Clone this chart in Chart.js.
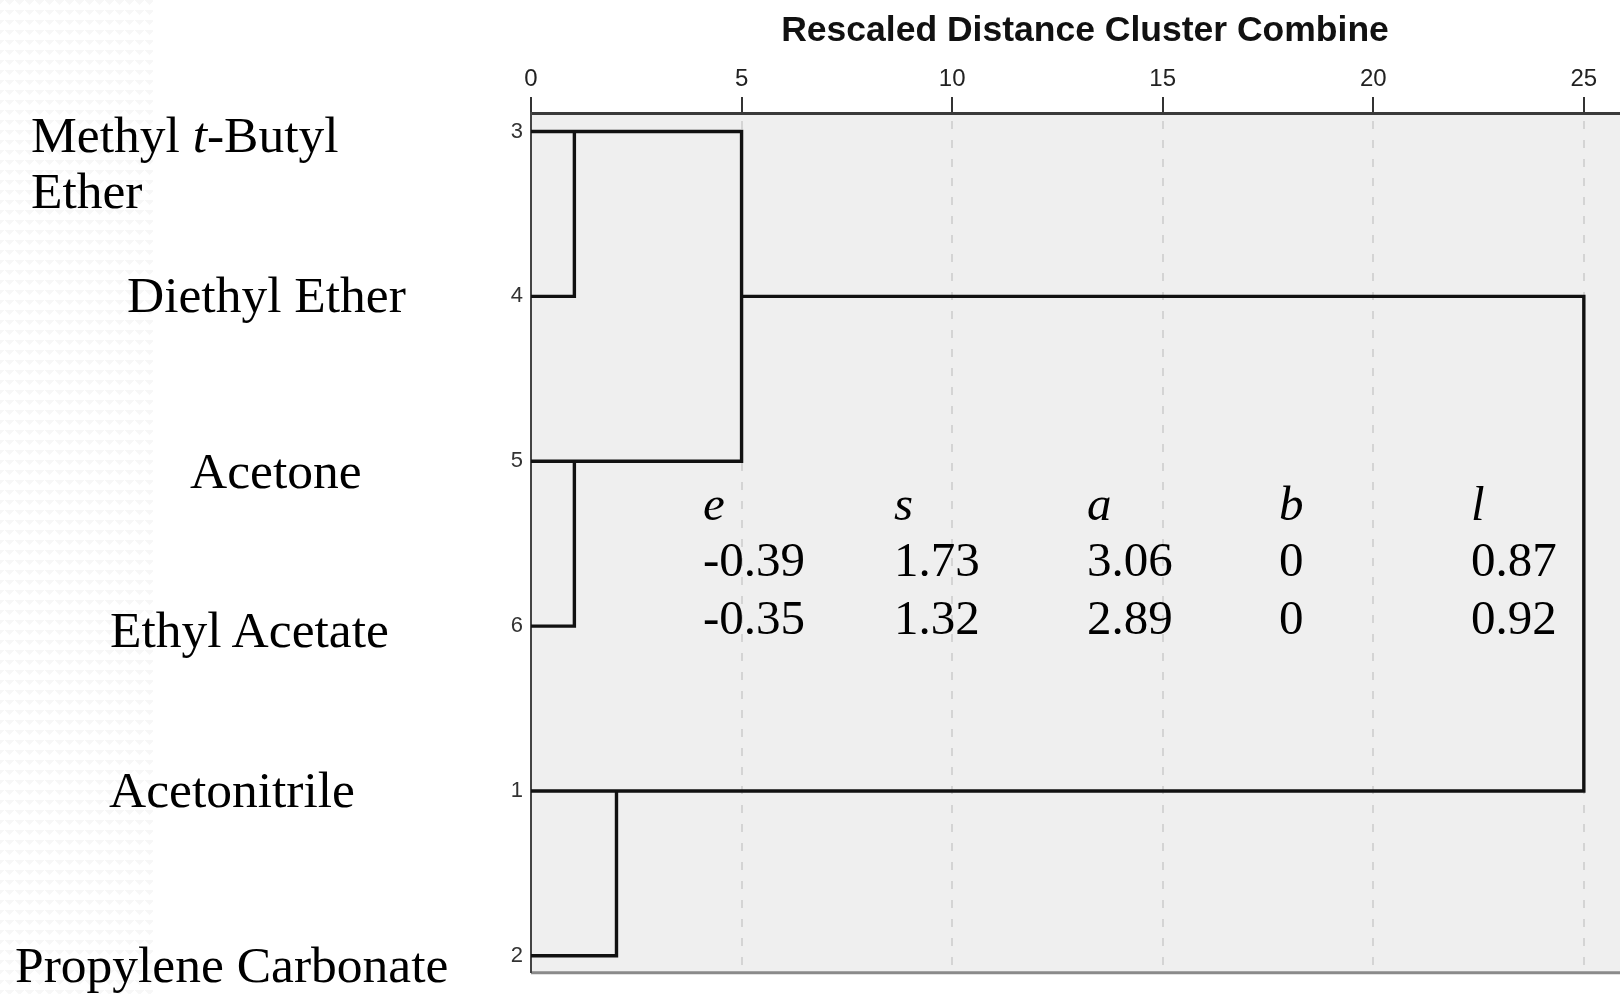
<!DOCTYPE html>
<html>
<head>
<meta charset="utf-8">
<script src="https://cdn.jsdelivr.net/npm/chart.js@4.4.1/dist/chart.umd.min.js"></script>
<style>
  html, body { margin: 0; padding: 0; background: #fff; overflow: hidden; }
  #wrap { position: relative; width: 1620px; height: 994px; overflow: hidden; }
  #textura {
    position: absolute; left: 0; top: 0; width: 153px; height: 994px;
    background-image:
      linear-gradient(135deg, #f7f7f7 25%, transparent 25%),
      linear-gradient(225deg, #f7f7f7 25%, transparent 25%);
    background-size: 10px 10px;
  }
  #grafico { position: absolute; left: 0; top: 0; }
  .rot { position: absolute; font-family: "Liberation Serif", "DejaVu Serif", serif; color: #000; white-space: nowrap; line-height: 1; }
</style>
</head>
<body>
<div id="wrap">
  <div id="textura"></div>
  <canvas id="grafico" width="1639" height="994"></canvas>
  <div id="textos"></div>
</div>
<script>
// casos na ordem do dendrograma (de cima para baixo)
const casos = ["3", "4", "5", "6", "1", "2"];
const nomes = ["Methyl <i>t</i>-Butyl", "Ether", "Diethyl Ether", "Acetone", "Ethyl Acetate", "Acetonitrile", "Propylene Carbonate"];
const distTicks = [0, 5, 10, 15, 20, 25];

// ramos: pares [distancia, indice da linha]
const ramoEteres = [[0, 0], [5, 0], [5, 2], [0, 2]];
const ramo34 = [[0, 1], [1.03, 1], [1.03, 0]];
const ramo56 = [[0, 3], [1.03, 3], [1.03, 2]];
const ramoFinal = [[5, 1], [25, 1], [25, 4], [0, 4]];
const ramo12 = [[0, 5], [2.03, 5], [2.03, 4]];

const coefNomes = ["e", "s", "a", "b", "l"];
const coefLinha1 = ["-0.39", "1.73", "3.06", "0", "0.87"];
const coefLinha2 = ["-0.35", "1.32", "2.89", "0", "0.92"];

// posicoes do texto do slide (esquerda, linha de base)
const posNomes = [[31, 152], [31, 208], [127, 312], [190, 488], [110, 647], [109, 807], [15, 982]];
const colunasX = [703, 894, 1087, 1279, 1471];
const basesTabela = [520, 576, 634];

const textos = document.getElementById("textos");
function rotulo(html, x, base, tam) {
  const d = document.createElement("div");
  d.className = "rot";
  d.style.fontSize = tam + "px";
  d.style.left = x + "px";
  d.style.top = (base - 0.8375 * tam) + "px";
  d.innerHTML = html;
  textos.appendChild(d);
}
nomes.forEach((n, i) => rotulo(n, posNomes[i][0], posNomes[i][1], 51.5));
coefNomes.forEach((n, i) => rotulo("<i>" + n + "</i>", colunasX[i], basesTabela[0], 49));
coefLinha1.forEach((n, i) => rotulo(n, colunasX[i], basesTabela[1], 49));
coefLinha2.forEach((n, i) => rotulo(n, colunasX[i], basesTabela[2], 49));

const fundo = {
  id: "fundo",
  beforeDraw(chart) {
    const { ctx, chartArea: a } = chart;
    ctx.save();
    ctx.fillStyle = "#efefef";
    ctx.fillRect(a.left, a.top, a.right - a.left, a.bottom - a.top);
    ctx.strokeStyle = "#8a8a8a";
    ctx.lineWidth = 3;
    ctx.beginPath();
    ctx.moveTo(a.left, a.bottom);
    ctx.lineTo(a.right, a.bottom);
    ctx.stroke();
    ctx.restore();
  }
};

const ramo = pts => ({
  data: pts.map(([x, y]) => ({ x, y })),
  showLine: true,
  borderColor: "#111",
  borderWidth: 3.4,
  pointRadius: 0,
  tension: 0,
  fill: false
});

new Chart(document.getElementById("grafico"), {
  type: "scatter",
  data: { datasets: [ramoEteres, ramo34, ramo56, ramoFinal, ramo12].map(ramo) },
  options: {
    responsive: false,
    devicePixelRatio: 1,
    animation: false,
    layout: { padding: { top: 0, left: 0, right: 0, bottom: 16 } },
    plugins: { legend: { display: false }, tooltip: { enabled: false } },
    scales: {
      x: {
        type: "linear",
        position: "top",
        min: 0,
        max: 26.31,
        afterBuildTicks: s => { s.ticks = distTicks.map(v => ({ value: v })); },
        afterFit: s => { s.height = 113; },
        ticks: { font: { family: "Liberation Sans", size: 24 }, color: "#222", padding: 3 },
        grid: {
          color: "#d4d4d4", lineWidth: 2,
          drawTicks: true, tickLength: 16, tickColor: "#333", tickWidth: 2, tickBorderDash: []
        },
        border: { display: true, color: "#3a3a3a", width: 3, dash: [8, 11], dashOffset: -6 },
        title: {
          display: true,
          text: "Rescaled Distance Cluster Combine",
          font: { family: "Liberation Sans", size: 35.5, weight: "bold" },
          color: "#111",
          padding: { top: 10, bottom: 0 }
        }
      },
      y: {
        type: "linear",
        reverse: true,
        min: -0.112,
        max: 5.103,
        afterBuildTicks: s => { s.ticks = casos.map((_, i) => ({ value: i })); },
        afterFit: s => { s.width = 531; },
        ticks: {
          callback: (v, i) => casos[i],
          font: { family: "Liberation Sans", size: 22 },
          color: "#333",
          padding: 8
        },
        grid: { display: false, drawTicks: false },
        border: { display: true, color: "#444", width: 2 }
      }
    }
  },
  plugins: [fundo]
});
</script>
</body>
</html>
